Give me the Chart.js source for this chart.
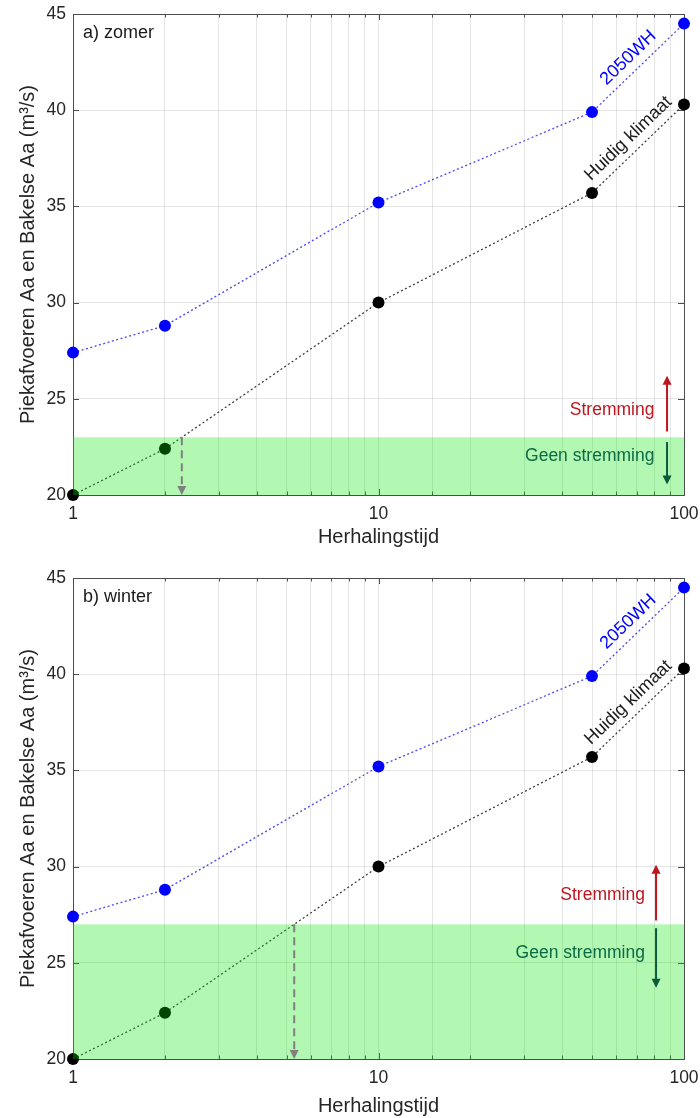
<!DOCTYPE html>
<html>
<head>
<meta charset="utf-8">
<script src="https://cdn.jsdelivr.net/npm/chart.js@4/dist/chart.umd.min.js"></script>
<style>
  body { margin: 0; background: #fff; }
  .panel { position: absolute; left: 0; width: 700px; height: 559px; }
</style>
</head>
<body>
<div class="panel" style="top:0"><canvas id="zomer"></canvas></div>
<div class="panel" style="top:559px"><canvas id="winter"></canvas></div>
<script>
// gegevens
const herhalingstijd = [1, 2, 10, 50, 100];
const huidigKlimaat = [20.0, 22.4, 30.0, 35.7, 40.3];
const wh2050 = [27.4, 28.8, 35.2, 39.9, 44.5];
const yTicks = [20, 25, 30, 35, 40, 45];
const xTickLabels = [1, 10, 100];
const panelLabels = ["a) zomer", "b) winter"];
const drempels = [23, 27]; // grens stremming / geen stremming

const FONT = "'Liberation Sans', Arial, sans-serif";
Chart.defaults.font.family = FONT;
Chart.defaults.color = "#262626";

function pijl(ctx, x, y0, y1, kleur, dash) {
  const dir = y1 < y0 ? -1 : 1;
  ctx.save();
  ctx.strokeStyle = kleur;
  ctx.fillStyle = kleur;
  ctx.lineWidth = 2;
  if (dash) ctx.setLineDash(dash);
  ctx.beginPath();
  ctx.moveTo(x, y0);
  ctx.lineTo(x, y1 - dir * 8);
  ctx.stroke();
  ctx.setLineDash([]);
  ctx.beginPath();
  ctx.moveTo(x, y1);
  ctx.lineTo(x - 4.5, y1 - dir * 9);
  ctx.lineTo(x + 4.5, y1 - dir * 9);
  ctx.closePath();
  ctx.fill();
  ctx.restore();
}

// snijpunt huidig klimaat met drempel (log-schaal in x)
function snijpunt(d) {
  for (let i = 0; i < herhalingstijd.length - 1; i++) {
    const a = huidigKlimaat[i], b = huidigKlimaat[i + 1];
    if (d >= a && d <= b) {
      const la = Math.log10(herhalingstijd[i]), lb = Math.log10(herhalingstijd[i + 1]);
      return Math.pow(10, la + (d - a) / (b - a) * (lb - la));
    }
  }
  return null;
}

function geenPadding(s) {
  s.paddingLeft = 0; s.paddingRight = 0; s.paddingTop = 0; s.paddingBottom = 0;
}

const extras = {
  id: "extras",
  beforeDatasetsDraw(chart) {
    const { ctx, chartArea: a, scales: { x, y } } = chart;
    ctx.save();
    ctx.strokeStyle = "#4d4d4d";
    ctx.lineWidth = 1;
    ctx.beginPath();
    yTicks.forEach(v => {
      const py = Math.round(y.getPixelForValue(v)) + 0.5;
      ctx.moveTo(a.left, py); ctx.lineTo(a.left + 6, py);
      ctx.moveTo(a.right, py); ctx.lineTo(a.right - 6, py);
    });
    x.ticks.forEach(t => {
      const px = Math.round(x.getPixelForValue(t.value)) + 0.5;
      const len = xTickLabels.includes(t.value) ? 6 : 3.5;
      ctx.moveTo(px, a.bottom); ctx.lineTo(px, a.bottom - len);
      ctx.moveTo(px, a.top); ctx.lineTo(px, a.top + len);
    });
    ctx.stroke();
    ctx.strokeRect(Math.round(a.left) + 0.5, Math.round(a.top) + 0.5, Math.round(a.right - a.left), Math.round(a.bottom - a.top));
    ctx.restore();
  },
  afterDatasetsDraw(chart, args, opts) {
    const { ctx, chartArea: a, scales: { x, y } } = chart;
    const yt = y.getPixelForValue(opts.drempel);
    ctx.save();
    // groen vlak
    ctx.fillStyle = "rgba(0,230,0,0.3)";
    ctx.fillRect(a.left, yt, a.right - a.left, a.bottom - yt);

    // gestippelde pijl naar herhalingstijd
    const t = snijpunt(opts.drempel);
    if (t) pijl(ctx, x.getPixelForValue(t), yt, a.bottom, "#808080", [8, 5]);

    // paneel label
    ctx.font = "18px " + FONT;
    ctx.fillStyle = "#1a1a1a";
    ctx.textBaseline = "middle";
    ctx.textAlign = "left";
    ctx.fillText(opts.label, a.left + 10, a.top + 19);

    // schuine labels langs lijnen
    [[0, "2050WH", "#0000ff"], [1, "Huidig klimaat", "#1a1a1a"]].forEach(([i, tekst, kleur]) => {
      const pts = chart.getDatasetMeta(i).data;
      const p0 = pts[3], p1 = pts[4];
      const ang = Math.atan2(p1.y - p0.y, p1.x - p0.x);
      const mx = (p0.x + p1.x) / 2 + Math.sin(ang) * 14;
      const my = (p0.y + p1.y) / 2 - Math.cos(ang) * 14;
      ctx.save();
      ctx.translate(mx, my);
      ctx.rotate(ang);
      ctx.textAlign = "center";
      ctx.fillStyle = kleur;
      ctx.fillText(tekst, 0, 0);
      ctx.restore();
    });

    // stremming / geen stremming
    const s = opts.strem, g = opts.geen;
    ctx.font = "17.5px " + FONT;
    ctx.textAlign = "right";
    ctx.fillStyle = "#c0141e";
    ctx.fillText("Stremming", x.getPixelForValue(s.tx), y.getPixelForValue(s.ty));
    pijl(ctx, x.getPixelForValue(s.ax), y.getPixelForValue(s.y0), y.getPixelForValue(s.y1), "#c0141e");
    ctx.fillStyle = "#0b6a45";
    ctx.fillText("Geen stremming", x.getPixelForValue(g.tx), y.getPixelForValue(g.ty));
    pijl(ctx, x.getPixelForValue(g.ax), y.getPixelForValue(g.y0), y.getPixelForValue(g.y1), "#0b5a3c");
    ctx.restore();
  }
};

function maakGrafiek(id, idx, top, xHoogte, titelPad, strem, geen) {
  new Chart(document.getElementById(id), {
    type: "line",
    data: {
      datasets: [
        {
          label: "2050WH",
          data: herhalingstijd.map((t, i) => ({ x: t, y: wh2050[i] })),
          borderColor: "#4b4bf5",
          borderDash: [2, 2.5],
          borderWidth: 1.3,
          pointBackgroundColor: "#0000ff",
          pointBorderWidth: 0,
          pointRadius: 6,
          clip: false
        },
        {
          label: "Huidig klimaat",
          data: herhalingstijd.map((t, i) => ({ x: t, y: huidigKlimaat[i] })),
          borderColor: "#404040",
          borderDash: [2, 2.5],
          borderWidth: 1.3,
          pointBackgroundColor: "#000000",
          pointBorderWidth: 0,
          pointRadius: 6,
          clip: false
        }
      ]
    },
    options: {
      responsive: true,
      maintainAspectRatio: false,
      animation: false,
      layout: { padding: { top: top, right: 16, left: 0, bottom: 0 } },
      plugins: {
        legend: { display: false },
        tooltip: { enabled: false },
        extras: { drempel: drempels[idx], label: panelLabels[idx], strem: strem, geen: geen }
      },
      scales: {
        x: {
          type: "logarithmic",
          min: 1,
          max: 100,
          afterFit: s => { s.height = xHoogte; geenPadding(s); },
          grid: { color: "rgba(0,0,0,0.1)", drawTicks: false },
          border: { display: false },
          ticks: {
            autoSkip: false,
            maxRotation: 0,
            padding: 9,
            font: { size: 17.5 },
            callback: v => xTickLabels.includes(v) ? String(v) : ""
          },
          title: { display: true, text: "Herhalingstijd", font: { size: 20 }, padding: { top: 0, bottom: titelPad } }
        },
        y: {
          min: 20,
          max: 45,
          afterBuildTicks: s => { s.ticks = yTicks.map(v => ({ value: v })); },
          afterFit: s => { s.width = 73; geenPadding(s); },
          grid: { color: "rgba(0,0,0,0.1)", drawTicks: false },
          border: { display: false },
          ticks: { padding: 7, font: { size: 17.5 } },
          title: { display: true, text: "Piekafvoeren Aa en Bakelse Aa (m³/s)", font: { size: 20 }, padding: { top: 16, bottom: 0 } }
        }
      }
    },
    plugins: [extras]
  });
}

maakGrafiek("zomer", 0, 14, 64, 10,
  { tx: 80, ty: 24.4, ax: 88, y0: 23.3, y1: 26.2 },
  { tx: 80, ty: 22.0, ax: 88, y0: 22.75, y1: 20.55 });
maakGrafiek("winter", 1, 19, 59, 0,
  { tx: 74.5, ty: 28.5, ax: 81, y0: 27.2, y1: 30.1 },
  { tx: 74.5, ty: 25.5, ax: 81, y0: 26.8, y1: 23.7 });
</script>
</body>
</html>
